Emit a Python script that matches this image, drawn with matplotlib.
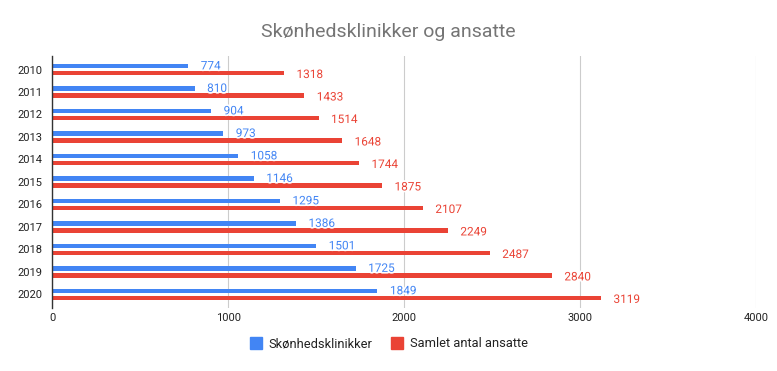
import matplotlib.pyplot as plt
import matplotlib.patheffects as pe
from matplotlib.lines import Line2D
import numpy as np

plt.rcParams['font.family'] = ['Roboto', 'DejaVu Sans']

# Data
years = ['2010', '2011', '2012', '2013', '2014', '2015', '2016', '2017', '2018', '2019', '2020']
klinikker = [774, 810, 904, 973, 1058, 1146, 1295, 1386, 1501, 1725, 1849]
ansatte = [1318, 1433, 1514, 1648, 1744, 1875, 2107, 2249, 2487, 2840, 3119]
series_names = ['Skønhedsklinikker', 'Samlet antal ansatte']

blue = '#4285F4'
red = '#EA4335'

fig = plt.figure(figsize=(7.77, 3.71), dpi=100)
ax = fig.add_axes([0.067, 0.170, 0.906, 0.679])

y = np.arange(len(years))
h = 0.2
off = 0.16

ax.barh(y - off, klinikker, height=h, color=blue, zorder=3)
ax.barh(y + off, ansatte, height=h, color=red, zorder=3)

stroke = [pe.withStroke(linewidth=2.5, foreground='white')]
for i in range(len(years)):
    ax.annotate(str(klinikker[i]), (klinikker[i], y[i] - off), xytext=(9, 0),
                textcoords='offset points', va='center', ha='left',
                fontsize=8.5, color=blue, path_effects=stroke, zorder=4)
    ax.annotate(str(ansatte[i]), (ansatte[i], y[i] + off), xytext=(9, -1),
                textcoords='offset points', va='center', ha='left',
                fontsize=8.5, color=red, path_effects=stroke, zorder=4)

ax.set_xlim(0, 4000)
ax.set_ylim(len(years) - 0.4, -0.6)
ax.set_yticks(y)
ax.set_yticklabels(years)
ax.set_xticks([0, 1000, 2000, 3000, 4000])
ax.tick_params(axis='y', length=0, labelsize=8, colors='#222222', pad=7)
ax.tick_params(axis='x', length=0, labelsize=8, colors='#222222', pad=4)
ax.grid(axis='x', color='#cccccc', linewidth=0.8, zorder=0)

for s in ['top', 'right', 'bottom']:
    ax.spines[s].set_visible(False)
ax.spines['left'].set_color('#333333')
ax.spines['left'].set_linewidth(1)
ax.spines['left'].set_zorder(5)

fig.text(0.5, 0.914, 'Skønhedsklinikker og ansatte', ha='center', va='center',
         fontsize=14, color='#757575')

handles = [Line2D([], [], marker='s', linestyle='none', markersize=9, color=blue),
           Line2D([], [], marker='s', linestyle='none', markersize=9, color=red)]
fig.legend(handles, series_names, loc='center', bbox_to_anchor=(0.5, 0.073), ncol=2,
           frameon=False, fontsize=9.3, handlelength=1.0, columnspacing=1.4,
           handletextpad=0.5, labelcolor='#222222')

plt.savefig('out.png', dpi=100)
